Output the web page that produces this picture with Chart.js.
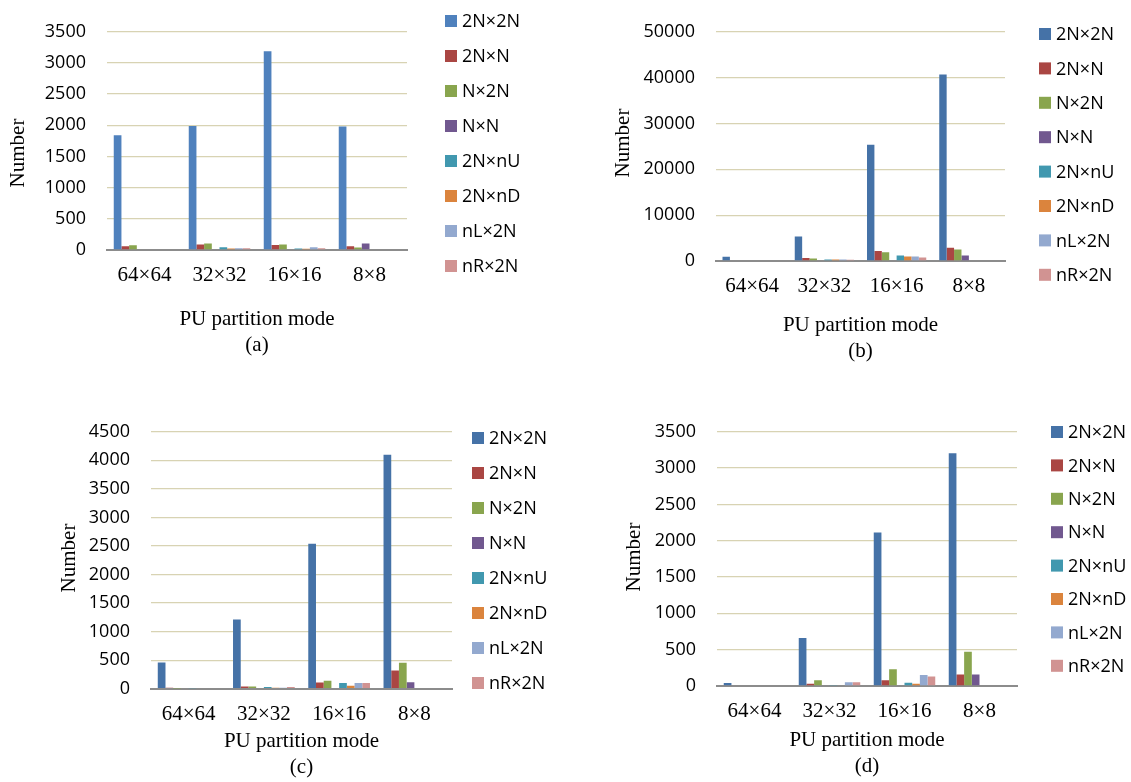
<!DOCTYPE html>
<html>
<head>
<meta charset="utf-8">
<script src="https://cdn.jsdelivr.net/npm/chart.js@4.4.1/dist/chart.umd.min.js"></script>
<style>
  body { margin: 0; background: #fff; }
  .panel { position: absolute; }
</style>
</head>
<body>
<div class="panel" style="left:0;top:0"><canvas id="chartA" width="560" height="370"></canvas></div>
<div class="panel" style="left:560px;top:0"><canvas id="chartB" width="571" height="370"></canvas></div>
<div class="panel" style="left:0;top:400px"><canvas id="chartC" width="560" height="382"></canvas></div>
<div class="panel" style="left:560px;top:400px"><canvas id="chartD" width="571" height="382"></canvas></div>
<script>
// categories and series
const categories = ['64×64', '32×32', '16×16', '8×8'];
const modes = ['2N×2N', '2N×N', 'N×2N', 'N×N', '2N×nU', '2N×nD', 'nL×2N', 'nR×2N'];

// one row per mode, one value per category
const valuesA = [
  [1840, 1990, 3190, 1980], // 2Nx2N
  [60, 90, 80, 60],         // 2NxN
  [75, 105, 90, 40],        // Nx2N
  [0, 0, 0, 105],           // NxN
  [0, 45, 25, 0],           // 2NxnU
  [0, 25, 20, 0],           // 2NxnD
  [0, 30, 45, 0],           // nLx2N
  [0, 30, 30, 0]            // nRx2N
];
const valuesB = [
  [900, 5350, 25350, 40700],
  [0, 630, 2180, 2890],
  [0, 560, 1900, 2530],
  [0, 0, 0, 1200],
  [0, 350, 1200, 0],
  [0, 350, 980, 0],
  [0, 350, 980, 0],
  [0, 280, 780, 0]
];
const valuesC = [
  [460, 1210, 2540, 4100],
  [15, 40, 110, 320],
  [5, 40, 140, 455],
  [0, 0, 0, 115],
  [8, 30, 100, 0],
  [0, 18, 50, 0],
  [0, 18, 100, 0],
  [0, 30, 100, 0]
];
const valuesD = [
  [40, 660, 2115, 3205],
  [0, 30, 80, 160],
  [0, 80, 230, 470],
  [0, 0, 0, 160],
  [0, 13, 45, 0],
  [0, 10, 30, 0],
  [0, 50, 150, 0],
  [0, 50, 130, 0]
];

const colors = ['#4572A7', '#AA4643', '#89A54E', '#71588F', '#4198AF', '#DB843D', '#93A9CF', '#D19392'];

Chart.defaults.font.family = "'Open Sans', sans-serif";
Chart.defaults.color = '#000';

// legend + rotated y title, drawn on the canvas
function makeDecor(cfg) {
  return {
    id: 'decor',
    afterDraw(chart) {
      const ctx = chart.ctx;
      ctx.save();
      ctx.font = "18px 'Open Sans', sans-serif";
      ctx.textBaseline = 'middle';
      ctx.textAlign = 'left';
      chart.data.datasets.forEach((ds, i) => {
        const y = cfg.legendY + i * cfg.legendStep;
        ctx.fillStyle = ds.backgroundColor;
        ctx.fillRect(cfg.legendX, y - 6, 12, 12);
        ctx.fillStyle = '#000';
        ctx.fillText(ds.label, cfg.legendX + 17, y + 1);
      });
      ctx.translate(cfg.titleX, cfg.titleY);
      ctx.rotate(-Math.PI / 2);
      ctx.font = "21px 'Liberation Serif', 'Times New Roman', serif";
      ctx.textAlign = 'center';
      ctx.fillText('Number', 0, 0);
      ctx.restore();
    }
  };
}

function makeChart(id, values, cfg) {
  const canvas = document.getElementById(id);
  const H = canvas.height;
  const axisBottom = cfg.captionY + 12.6;
  return new Chart(canvas.getContext('2d'), {
    type: 'bar',
    data: {
      labels: categories,
      datasets: modes.map((m, i) => ({
        label: m,
        data: values[i],
        backgroundColor: i === 0 ? cfg.blue : colors[i],
        categoryPercentage: 0.82,
        barPercentage: 1.0
      }))
    },
    options: {
      responsive: false,
      animation: false,
      layout: {
        padding: { left: 0, top: cfg.top, right: canvas.width - cfg.right, bottom: H - axisBottom }
      },
      plugins: { legend: { display: false }, tooltip: { enabled: false } },
      scales: {
        x: {
          grid: { display: false, drawTicks: false },
          border: { display: true, color: '#8C8C8C', width: 2 },
          ticks: {
            padding: 13,
            font: { family: "'Liberation Serif', 'Times New Roman', serif", size: 21 }
          },
          title: {
            display: true,
            text: ['PU partition mode', cfg.caption],
            padding: 0,
            font: { family: "'Liberation Serif', 'Times New Roman', serif", size: 21, lineHeight: 1.2 }
          },
          afterFit(axis) { axis.height = axisBottom - cfg.bottom; }
        },
        y: {
          min: 0,
          max: cfg.max,
          grid: { color: '#D8D3B3', lineWidth: 1.3, drawTicks: false },
          border: { display: false },
          ticks: {
            stepSize: cfg.step,
            padding: 21,
            font: { size: 18 },
            callback: v => String(v)
          },
          afterFit(axis) { axis.width = cfg.left; }
        }
      }
    },
    plugins: [makeDecor(cfg)]
  });
}

makeChart('chartA', valuesA, {
  blue: '#4F81BD', max: 3500, step: 500, caption: '(a)',
  left: 107, right: 407, top: 13.3, bottom: 250, captionY: 345,
  legendX: 445, legendY: 21, legendStep: 35, titleX: 18, titleY: 153
});
makeChart('chartB', valuesB, {
  blue: '#4572A7', max: 50000, step: 10000, caption: '(b)',
  left: 156, right: 445, top: 24, bottom: 261, captionY: 351,
  legendX: 479, legendY: 34, legendStep: 34.4, titleX: 63, titleY: 143
});
makeChart('chartC', valuesC, {
  blue: '#4572A7', max: 4500, step: 500, caption: '(c)',
  left: 151, right: 452, top: 27.5, bottom: 288.7, captionY: 367,
  legendX: 472, legendY: 38, legendStep: 35, titleX: 69, titleY: 158
});
makeChart('chartD', valuesD, {
  blue: '#4572A7', max: 3500, step: 500, caption: '(d)',
  left: 157, right: 457, top: 25, bottom: 286, captionY: 366,
  legendX: 491, legendY: 32, legendStep: 33.4, titleX: 74, titleY: 157
});
</script>
</body>
</html>
